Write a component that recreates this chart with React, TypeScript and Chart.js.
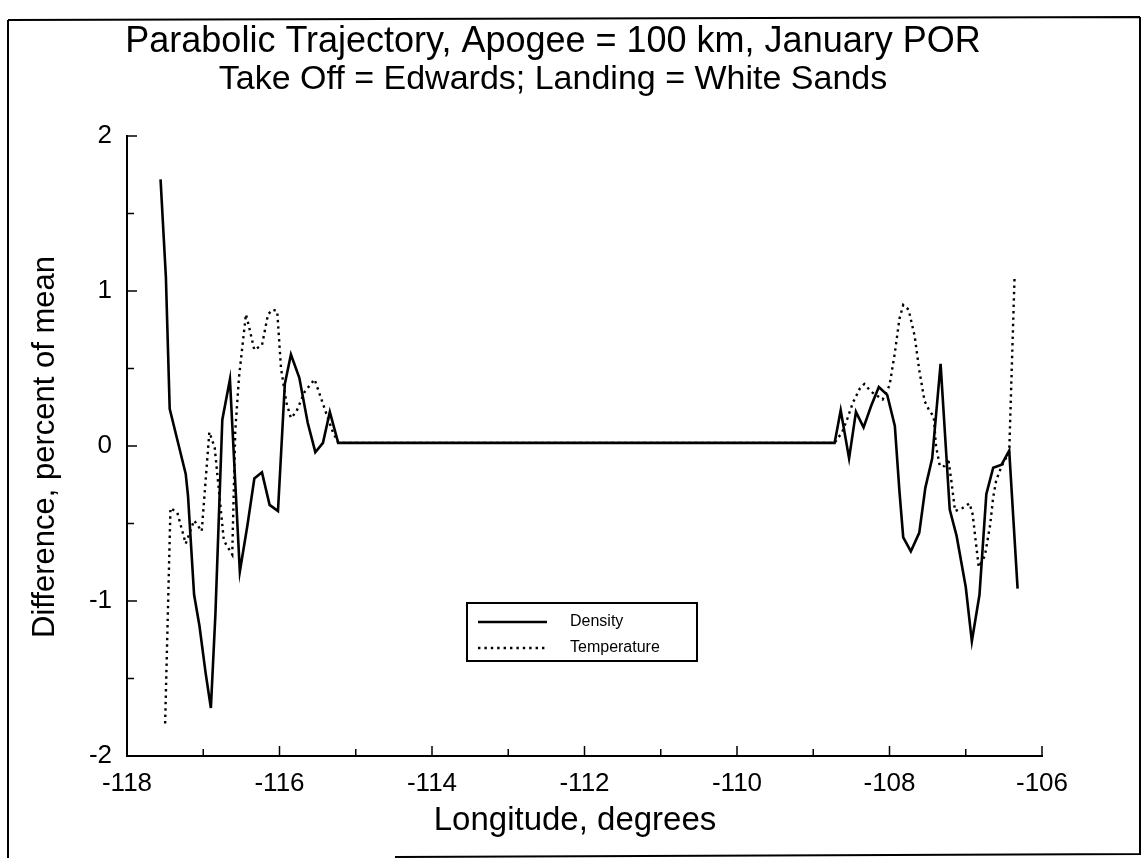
import React, { useEffect, useRef } from "react";
import { Chart, registerables } from "chart.js";

Chart.register(...registerables);

// ---- Data ----
const densityLon = [
  -117.56, -117.49, -117.44, -117.32, -117.23, -117.2, -117.12, -117.05, -116.97, -116.9,
  -116.84, -116.75, -116.65, -116.52, -116.42, -116.33, -116.23, -116.13, -116.02, -115.93,
  -115.85, -115.74, -115.63, -115.53, -115.43, -115.34, -115.23, -108.72, -108.64, -108.53,
  -108.44, -108.34, -108.24, -108.14, -108.03, -107.93, -107.87, -107.82, -107.72, -107.61,
  -107.53, -107.44, -107.33, -107.21, -107.12, -107.0, -106.92, -106.82, -106.73, -106.64,
  -106.53, -106.43, -106.32,
];
const densityVal = [
  1.72, 1.09, 0.24, 0.0, -0.18, -0.32, -0.96, -1.16, -1.46, -1.69,
  -1.08, 0.17, 0.43, -0.81, -0.51, -0.21, -0.17, -0.38, -0.42, 0.4,
  0.59, 0.44, 0.15, -0.04, 0.02, 0.22, 0.02, 0.02, 0.23, -0.08,
  0.22, 0.12, 0.26, 0.38, 0.33, 0.13, -0.29, -0.59, -0.68, -0.56,
  -0.27, -0.08, 0.53, -0.41, -0.58, -0.91, -1.26, -0.96, -0.31, -0.14,
  -0.12, -0.03, -0.92,
];
const temperatureLon = [
  -117.5, -117.43, -117.34, -117.23, -117.12, -117.02, -116.92, -116.85, -116.73, -116.62,
  -116.58, -116.53, -116.44, -116.4, -116.33, -116.23, -116.15, -116.09, -116.03, -115.98,
  -115.91, -115.85, -115.78, -115.67, -115.54, -115.47, -115.38, -115.3, -115.23, -108.72,
  -108.62, -108.55, -108.48, -108.39, -108.33, -108.24, -108.09, -108.0, -107.93, -107.87,
  -107.82, -107.75, -107.67, -107.61, -107.54, -107.48, -107.42, -107.39, -107.34, -107.28,
  -107.23, -107.19, -107.14, -107.04, -106.95, -106.91, -106.83, -106.75, -106.68, -106.64,
  -106.6, -106.53, -106.43, -106.36,
];
const temperatureVal = [
  -1.79, -0.4, -0.43, -0.63, -0.48, -0.55, 0.09, -0.01, -0.61, -0.7,
  0.1, 0.45, 0.85, 0.77, 0.62, 0.65, 0.85, 0.88, 0.87, 0.5,
  0.28, 0.18, 0.22, 0.35, 0.43, 0.33, 0.2, 0.09, 0.02, 0.02,
  0.09, 0.18, 0.28, 0.37, 0.4, 0.35, 0.3, 0.39, 0.6, 0.82,
  0.91, 0.88, 0.71, 0.49, 0.29, 0.23, 0.19, 0.0, -0.13, -0.13,
  -0.08, -0.22, -0.42, -0.4, -0.37, -0.44, -0.78, -0.71, -0.51, -0.33,
  -0.22, -0.13, -0.04, 1.09,
];

const seriesLabels = ["Density", "Temperature"];
const xMin = -118;
const xMax = -106;
const yMin = -2;
const yMax = 2;
const titleLine1 = "Parabolic Trajectory, Apogee = 100 km, January POR";
const titleLine2 = "Take Off = Edwards; Landing = White Sands";
const xAxisTitle = "Longitude, degrees";
const yAxisTitle = "Difference, percent of mean";

const FONT = "'Liberation Sans', Arial, Helvetica, sans-serif";

const toPoints = (xs: number[], ys: number[]) => xs.map((x, i) => ({ x, y: ys[i] }));

const framePlugin = {
  id: "framePlugin",
  beforeDraw(chart: any) {
    const { ctx } = chart;
    ctx.save();
    ctx.fillStyle = "#fff";
    ctx.fillRect(0, 0, chart.width, chart.height);
    ctx.strokeStyle = "#000";
    ctx.lineWidth = 2;
    ctx.beginPath();
    ctx.moveTo(8, 20);
    ctx.lineTo(1140, 17);
    ctx.moveTo(8, 20);
    ctx.lineTo(8, 858);
    ctx.moveTo(1140, 17);
    ctx.lineTo(1140, 855);
    ctx.moveTo(395, 857);
    ctx.lineTo(1140, 854);
    ctx.stroke();
    ctx.restore();
  },
};

const titlePlugin = {
  id: "titlePlugin",
  afterDraw(chart: any) {
    const { ctx } = chart;
    ctx.save();
    ctx.fillStyle = "#000";
    ctx.textAlign = "center";
    ctx.textBaseline = "middle";
    ctx.font = `36px ${FONT}`;
    ctx.fillText(titleLine1, 553, 42);
    ctx.font = `34px ${FONT}`;
    ctx.fillText(titleLine2, 553, 80);
    // axis titles
    ctx.font = `33px ${FONT}`;
    ctx.fillText(xAxisTitle, 575, 821);
    ctx.translate(45, 447);
    ctx.rotate(-Math.PI / 2);
    ctx.font = `31px ${FONT}`;
    ctx.fillText(yAxisTitle, 0, 0);
    ctx.restore();
  },
};

const inwardTicksPlugin = {
  id: "inwardTicks",
  afterDraw(chart: any) {
    const { ctx, chartArea } = chart;
    const xs = chart.scales.x;
    const ys = chart.scales.y;
    ctx.save();
    ctx.strokeStyle = "#000";
    ctx.lineWidth = 1.5;
    xs.ticks.forEach((t: any) => {
      const px = xs.getPixelForValue(t.value);
      const len = Math.abs(t.value) % 2 === 0 ? 10 : 7;
      ctx.beginPath();
      ctx.moveTo(px, chartArea.bottom);
      ctx.lineTo(px, chartArea.bottom - len);
      ctx.stroke();
    });
    ys.ticks.forEach((t: any) => {
      const py = ys.getPixelForValue(t.value);
      const len = Number.isInteger(t.value) ? 10 : 7;
      ctx.beginPath();
      ctx.moveTo(chartArea.left, py);
      ctx.lineTo(chartArea.left + len, py);
      ctx.stroke();
    });
    ctx.restore();
  },
};

const legendPlugin = {
  id: "boxLegend",
  afterDraw(chart: any) {
    const { ctx } = chart;
    const left = 467;
    const top = 603;
    const w = 230;
    const h = 58;
    ctx.save();
    ctx.fillStyle = "#fff";
    ctx.fillRect(left, top, w, h);
    ctx.strokeStyle = "#000";
    ctx.lineWidth = 2;
    ctx.strokeRect(left, top, w, h);
    chart.data.datasets.forEach((ds: any, i: number) => {
      const y = top + 19 + i * 26;
      ctx.beginPath();
      ctx.lineWidth = ds.borderWidth;
      ctx.setLineDash(ds.borderDash || []);
      ctx.moveTo(478, y);
      ctx.lineTo(547, y);
      ctx.stroke();
      ctx.setLineDash([]);
      ctx.fillStyle = "#000";
      ctx.font = `16px ${FONT}`;
      ctx.textAlign = "left";
      ctx.textBaseline = "middle";
      ctx.fillText(ds.label, 570, y);
    });
    ctx.restore();
  },
};

export default function App() {
  const ref = useRef<HTMLCanvasElement>(null);

  useEffect(() => {
    if (!ref.current) return;
    const chart = new Chart(ref.current, {
      type: "line",
      data: {
        datasets: [
          {
            label: seriesLabels[0],
            data: toPoints(densityLon, densityVal),
            borderColor: "#000",
            borderWidth: 2.6,
            pointRadius: 0,
            tension: 0,
            fill: false,
          },
          {
            label: seriesLabels[1],
            data: toPoints(temperatureLon, temperatureVal),
            borderColor: "#000",
            borderWidth: 2.4,
            borderDash: [2.4, 4],
            pointRadius: 0,
            tension: 0,
            fill: false,
          },
        ],
      },
      options: {
        responsive: false,
        animation: false,
        events: [],
        layout: { padding: { left: 0, right: 106, top: 136, bottom: 0 } },
        plugins: {
          legend: { display: false },
          title: { display: false },
          tooltip: { enabled: false },
        },
        scales: {
          x: {
            type: "linear",
            min: xMin,
            max: xMax,
            grid: { display: false, drawTicks: false },
            border: { display: true, color: "#000", width: 2 },
            ticks: {
              stepSize: 1,
              autoSkip: false,
              maxRotation: 0,
              padding: 12,
              color: "#000",
              font: { family: FONT, size: 26 },
              callback: (v: any) => (Math.abs(Number(v)) % 2 === 0 ? String(v) : ""),
            },
            title: { display: false },
            afterFit: (scale: any) => {
              scale.height = 863 - 756;
            },
          },
          y: {
            type: "linear",
            min: yMin,
            max: yMax,
            grid: { display: false, drawTicks: false },
            border: { display: true, color: "#000", width: 2 },
            ticks: {
              stepSize: 0.5,
              autoSkip: false,
              padding: 15,
              color: "#000",
              font: { family: FONT, size: 26 },
              callback: (v: any) => (Number.isInteger(Number(v)) ? String(v) : ""),
            },
            title: { display: false },
            afterFit: (scale: any) => {
              scale.width = 127;
            },
          },
        },
      },
      plugins: [framePlugin, inwardTicksPlugin, legendPlugin, titlePlugin],
    } as any);
    return () => chart.destroy();
  }, []);

  return (
    <div style={{ position: "fixed", left: 0, top: 0, width: 1148, height: 863, background: "#fff" }}>
      <canvas ref={ref} width={1148} height={863} style={{ display: "block", width: 1148, height: 863 }} />
    </div>
  );
}
